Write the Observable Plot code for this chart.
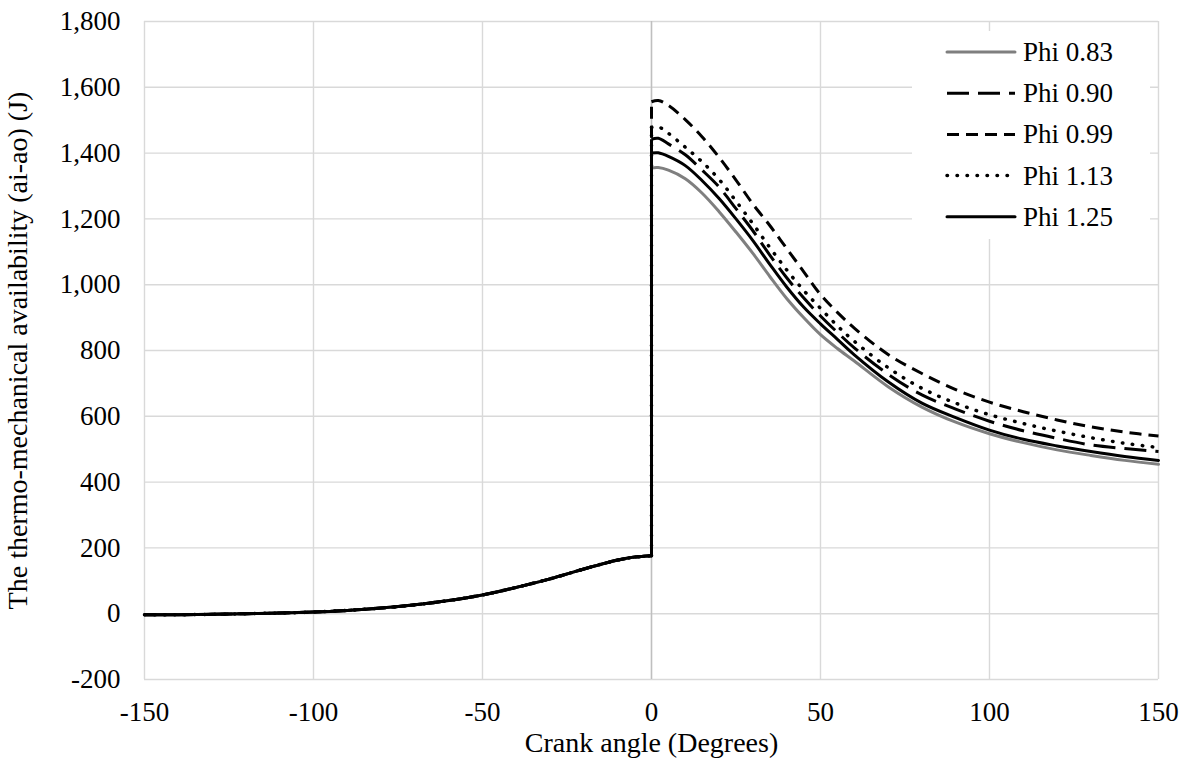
<!DOCTYPE html>
<html>
<head>
<meta charset="utf-8">
<script src="https://cdn.jsdelivr.net/npm/d3@7"></script>
<script src="https://cdn.jsdelivr.net/npm/@observablehq/plot@0.6"></script>
<style>
  html, body { margin: 0; padding: 0; background: #fff; }
</style>
</head>
<body>
<div id="chart"></div>
<script>
// ---- data ----
const seriesNames = ["Phi 0.83", "Phi 0.90", "Phi 0.99", "Phi 1.13", "Phi 1.25"];

// compression stroke (shared by all series)
const xPre = [-150, -140, -130, -120, -110, -100, -90, -80, -70, -60, -50, -40, -30, -20, -15, -10, -5, 0];
const yPre = [-3, -3, -2, 0, 2, 5, 10, 17, 27, 40, 57, 80, 106, 136, 150, 163, 172, 176];

// expansion stroke
const xPost = [0, 2, 5, 10, 15, 20, 25, 30, 35, 40, 45, 50, 55, 60, 70, 80, 90, 100, 110, 120, 130, 140, 150];
const phi083 = [1355, 1356, 1348, 1322, 1278, 1222, 1160, 1095, 1025, 958, 900, 848, 806, 768, 690, 628, 582, 547, 520, 498, 481, 466, 454];
const phi090 = [1442, 1445, 1428, 1395, 1348, 1297, 1231, 1164, 1090, 1021, 960, 905, 855, 808, 728, 665, 622, 585, 556, 533, 513, 502, 493];
const phi099 = [1556, 1560, 1545, 1502, 1449, 1387, 1318, 1245, 1180, 1110, 1040, 970, 916, 868, 788, 730, 681, 643, 614, 589, 568, 552, 540];
const phi113 = [1478, 1480, 1460, 1418, 1373, 1320, 1254, 1185, 1113, 1045, 983, 928, 875, 828, 748, 685, 640, 605, 578, 555, 535, 518, 505];
const phi125 = [1400, 1401, 1390, 1362, 1316, 1262, 1200, 1134, 1062, 993, 932, 881, 834, 787, 705, 640, 596, 558, 530, 510, 493, 478, 466];
const seriesValues = [phi083, phi090, phi099, phi113, phi125];

const xTicks = [-150, -100, -50, 0, 50, 100, 150];
const yTicks = [-200, 0, 200, 400, 600, 800, 1000, 1200, 1400, 1600, 1800];
const xTitle = "Crank angle (Degrees)";
const yTitle = "The thermo-mechanical availability (ai-ao) (J)";

// ---- styles ----
const styles = [
  {stroke: "#7f7f7f", width: 3, dash: null, cap: "round"},
  {stroke: "#000", width: 3, dash: "22,9", cap: "butt"},
  {stroke: "#000", width: 3, dash: "12,7", cap: "butt"},
  {stroke: "#000", width: 3.5, dash: "0.5,9.5", cap: "round"},
  {stroke: "#000", width: 3, dash: null, cap: "round"}
];

// ---- build table ----
const rows = [];
seriesNames.forEach((name, i) => {
  const vals = seriesValues[i];
  xPre.forEach((x, j) => rows.push({series: name, seg: "pre", x, y: yPre[j]}));
  rows.push({series: name, seg: "vert", x: xPre[xPre.length - 1], y: yPre[yPre.length - 1]});
  rows.push({series: name, seg: "vert", x: xPost[0], y: vals[0]});
  xPost.forEach((x, j) => rows.push({series: name, seg: "post", x, y: vals[j]}));
});

const W = 1186, H = 769;
const M = {top: 21, right: 28, bottom: 90, left: 144};
const FONT = "'Liberation Serif', 'Times New Roman', serif";

const lineMarks = seriesNames.map((name, i) => Plot.line(rows.filter(d => d.series === name), {
  x: "x", y: "y", z: "seg",
  stroke: styles[i].stroke,
  strokeWidth: styles[i].width,
  strokeDasharray: styles[i].dash,
  strokeLinecap: styles[i].cap,
  strokeLinejoin: "round",
  curve: "catmull-rom"
}));

const chart = Plot.plot({
  width: W,
  height: H,
  marginTop: M.top,
  marginRight: M.right,
  marginBottom: M.bottom,
  marginLeft: M.left,
  style: {fontFamily: FONT, fontSize: "27px", background: "#fff", color: "#000", overflow: "visible"},
  x: {domain: [-150, 150], label: null},
  y: {domain: [-200, 1800], label: null},
  marks: [
    Plot.gridX(xTicks, {stroke: "#d9d9d9", strokeOpacity: 1, strokeWidth: 1.4}),
    Plot.gridY(yTicks, {stroke: "#d9d9d9", strokeOpacity: 1, strokeWidth: 1.4}),
    Plot.ruleX([0], {stroke: "#bfbfbf", strokeWidth: 1.4}),
    Plot.axisX({ticks: xTicks, tickSize: 0, tickPadding: 22, tickFormat: d => String(d), fontSize: 27, fontVariant: "normal"}),
    Plot.axisY({ticks: yTicks, tickSize: 0, tickPadding: 24, tickFormat: d => d.toLocaleString("en-US"), fontSize: 27, fontVariant: "normal"}),
    Plot.text([xTitle], {frameAnchor: "bottom", dy: 64, lineAnchor: "middle", textAnchor: "middle", fontSize: 28, text: d => d}),
    Plot.text([yTitle], {frameAnchor: "left", dx: -126, rotate: -90, lineAnchor: "middle", textAnchor: "middle", fontSize: 28, text: d => d}),
    ...lineMarks
  ]
});

// ---- legend (inside plot, top right) ----
const svg = d3.select(chart);
const lg = svg.append("g").attr("font-family", FONT).attr("font-size", 27).attr("text-anchor", "start");
lg.append("rect")
  .attr("x", 912).attr("y", 31).attr("width", 238).attr("height", 208)
  .attr("fill", "#fff");
seriesNames.forEach((name, i) => {
  const yy = 52 + 41.2 * i;
  const s = styles[i];
  const ln = lg.append("line")
    .attr("x1", 947).attr("x2", 1015).attr("y1", yy).attr("y2", yy)
    .attr("stroke", s.stroke).attr("stroke-width", s.width)
    .attr("stroke-linecap", s.cap);
  if (s.dash) ln.attr("stroke-dasharray", s.dash);
  lg.append("text")
    .attr("x", 1023).attr("y", yy).attr("dy", "0.33em")
    .attr("text-anchor", "start")
    .attr("fill", "#000")
    .text(name);
});

document.getElementById("chart").appendChild(chart);
</script>
</body>
</html>
